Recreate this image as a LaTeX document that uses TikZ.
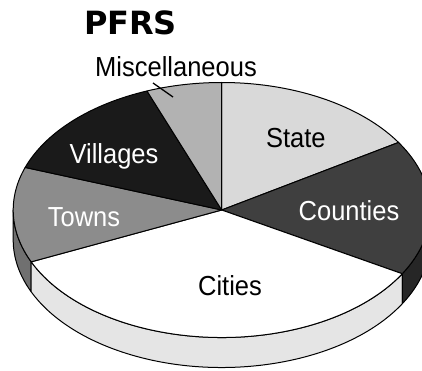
\documentclass[tikz,border=0pt]{standalone}
\usepackage{fontspec}
\setmainfont{Liberation Sans}
\newfontfamily\titlefont{DejaVu Sans}
\usetikzlibrary{calc}
\definecolor{cstate}{HTML}{D9D9D9}
\definecolor{ccounties}{HTML}{3F3F3F}
\definecolor{ccities}{HTML}{FFFFFF}
\definecolor{ctowns}{HTML}{8C8C8C}
\definecolor{cvillages}{HTML}{1A1A1A}
\definecolor{cmisc}{HTML}{B2B2B2}
\definecolor{scities}{HTML}{E5E5E5}
\definecolor{stowns}{HTML}{707070}
\definecolor{scounties}{HTML}{262626}
\newcommand{\lbltext}[1]{\scalebox{1}[1.08]{#1}}
\tikzset{
  slice/.style={draw=black, line width=1pt, line join=round},
  lbl/.style={inner sep=0pt, anchor=base, font=\fontsize{25.5}{30}\selectfont},
  wlbl/.style={lbl, text=white},
  leader/.style={draw=black, line width=1.3pt},
}
\newcommand{\topslice}[3]{%
  \filldraw[slice, fill=#3] (C) -- ++({208.5*cos(#1)},{127.5*sin(#1)}) arc[start angle=#1, end angle=#2, x radius=208.5pt, y radius=127.5pt] -- cycle;}
\newcommand{\sideslice}[3]{%
  \filldraw[slice, fill=#3] ($(C)+({208.5*cos(#1)},{127.5*sin(#1)})$) arc[start angle=#1, end angle=#2, x radius=208.5pt, y radius=127.5pt] -- ++(0,-30) arc[start angle=#2, end angle=#1, x radius=208.5pt, y radius=127.5pt] -- cycle;}
\begin{document}
\begin{tikzpicture}[x=1pt,y=1pt]
\useasboundingbox (0,0) rectangle (422,370);
\coordinate (C) at (221.7,160);
% sides
\sideslice{180}{204}{stowns}
\sideslice{204}{330}{scities}
\sideslice{330}{360}{scounties}
% top
\topslice{32}{90}{cstate}
\topslice{-30}{32}{ccounties}
\topslice{-156}{-30}{ccities}
\topslice{160.5}{204}{ctowns}
\topslice{111}{160.5}{cvillages}
\topslice{90}{111}{cmisc}
% labels
\node[inner sep=0pt, anchor=base, font=\titlefont\bfseries\fontsize{32}{38}\selectfont] (title) at (130.5,335) {PFRS};
\node[lbl] (misc) at (176,293) {\lbltext{Miscellaneous}};
\node[lbl] (state) at (295.8,222.3) {\lbltext{State}};
\node[wlbl] (villages) at (114,207) {\lbltext{Villages}};
\node[wlbl] (towns) at (84,144) {\lbltext{Towns}};
\node[wlbl] (counties) at (349,150) {\lbltext{Counties}};
\node[lbl] (cities) at (230,75) {\lbltext{Cities}};
\coordinate (ml1) at (153,287);
\coordinate (ml2) at (173,273);
\draw[leader] (ml1) -- (ml2);
\end{tikzpicture}
\end{document}
